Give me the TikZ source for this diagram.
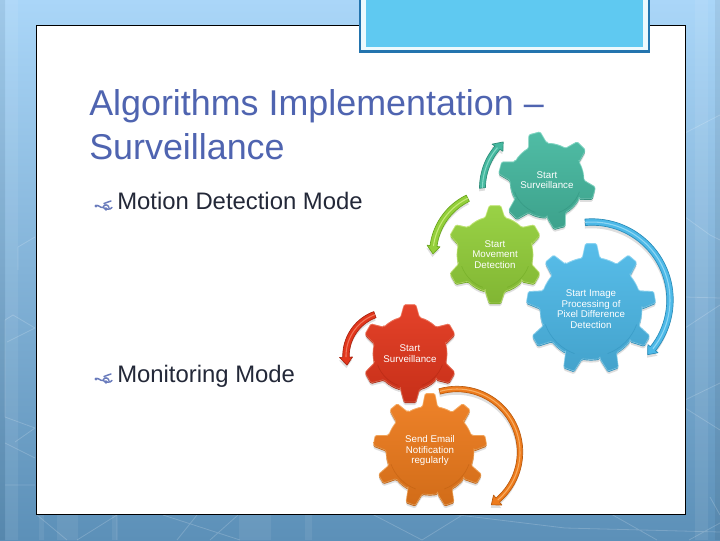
\documentclass[tikz,border=0pt]{standalone}
\usepackage{fontspec}
\setmainfont{Liberation Sans}
\definecolor{titleblue}{HTML}{4F64B0}
\definecolor{bodyink}{HTML}{232838}
\definecolor{boxedge}{HTML}{2374AE}
\definecolor{boxfill}{HTML}{5FC9F1}
\definecolor{bgtop}{RGB}{170,214,248}
\definecolor{bgbottom}{RGB}{92,144,184}
\newcommand{\gearpath}[6]{%
  (#4+360/#3-#5:#2) \foreach \k [evaluate=\k as \ga using #4+\k*360/#3] in {1,...,#3} {
    -- (\ga-#5:#2) -- (\ga-#6:#1) -- (\ga+#6:#1) -- (\ga+#5:#2)
    arc[start angle=\ga+#5, end angle=\ga+360/#3-#5, radius=#2]
  } -- cycle}
% cx, cy (from top), ro, ri, n, rot, db, dt; colours gdark gmain glight
\newcommand{\gearat}[8]{%
  \begin{scope}[shift={(#1,540-#2)}]
    \fill[black, opacity=.13, shift={(0,-3.5)}, rounded corners=1] \gearpath{#3}{#4}{#5}{#6}{#7}{#8};
    \fill[gdark, shift={(0,-1.5)}, rounded corners=1] \gearpath{#3}{#4}{#5}{#6}{#7}{#8};
    \shade[top color=gmain!94!white, bottom color=gmain!88!black, rounded corners=1] \gearpath{#3}{#4}{#5}{#6}{#7}{#8};
    \draw[glight, line width=.6pt, opacity=.55, rounded corners=1, shift={(0,-.4)}] \gearpath{#3}{#4}{#5}{#6}{#7}{#8};
    \draw[gdark, line width=.5pt, opacity=.45] (-70:#4-2.5) arc[start angle=-70, end angle=-20, radius=#4-2.5] (-160:#4-2.5) arc[start angle=-160, end angle=-110, radius=#4-2.5];
  \end{scope}}
% cx, cy (from top), r0, r1, a, b, width; colours gdark gmain glight
\newcommand{\arcarrow}[7]{%
  \begin{scope}[shift={(#1,540-#2)}]
    \pgfmathsetmacro{\hang}{(#6>#5?1:-1)*8/#4*57.3}
    \pgfmathsetmacro{\bs}{#6-\hang}
    \pgfmathsetmacro{\rs}{#3+(#4-#3)*(\bs-#5)/(#6-#5)}
    \fill[black, opacity=.13, shift={(-.5,-3)}]
      plot[domain=#5:\bs, samples=40] ({\x}:{#3+(#4-#3)*(\x-#5)/(#6-#5)+#7/2})
      -- (\bs:\rs+6.5) -- (#6:#4) -- (\bs:\rs-6.5)
      -- plot[domain=\bs:#5, samples=40] ({\x}:{#3+(#4-#3)*(\x-#5)/(#6-#5)-#7/2}) -- cycle;
    \fill[gmain, draw=gdark, line width=.5pt, line join=round]
      plot[domain=#5:\bs, samples=40] ({\x}:{#3+(#4-#3)*(\x-#5)/(#6-#5)+#7/2})
      -- (\bs:\rs+6.5) -- (#6:#4) -- (\bs:\rs-6.5)
      -- plot[domain=\bs:#5, samples=40] ({\x}:{#3+(#4-#3)*(\x-#5)/(#6-#5)-#7/2}) -- cycle;
    \draw[glight, line width=.8pt, opacity=.65]
      plot[domain=#5:\bs, samples=40] ({\x}:{#3+(#4-#3)*(\x-#5)/(#6-#5)});
  \end{scope}}
\newcommand{\setgear}[3]{\colorlet{gdark}{#1}\colorlet{gmain}{#2}\colorlet{glight}{#3}}
\newcommand{\fleuron}[2]{%
  \begin{scope}[shift={(#1,540-#2)}]
    \draw[titleblue!85!white, line width=1.1pt, line cap=round]
      (0,0) .. controls (2,2) and (4,-2) .. (7,-1.5)
      .. controls (10,-3.5) and (14,-4) .. (16,-1.5)
      (7,-1.5) .. controls (8,2) and (12,2) .. (13,-1.5)
      (8,2.5) .. controls (11,4) and (13,4) .. (15,5);
    \fill[titleblue!85!white] (0,0) circle[radius=1.7] (10,-3) circle[radius=1.8];
  \end{scope}}
\begin{document}
\begin{tikzpicture}[x=0.75pt,y=0.75pt,
  titletext/.style={anchor=base west,inner sep=0,text=titleblue,font=\fontsize{26.9}{30}\selectfont},
  bodytext/.style={anchor=base west,inner sep=0,text=bodyink,font=\fontsize{17.9}{22}\selectfont},
  geartext/.style={align=center,inner sep=0,text=white,font=\fontsize{7.3}{8}\selectfont},
  bgline/.style={white,opacity=.18,line width=.6pt}]
\useasboundingbox (0,0) rectangle (720,540);
% background
\shade[top color=bgtop, bottom color=bgbottom] (0,0) rectangle (720,540);
\fill[white,opacity=.07] (5,0) rectangle (18,540) (39,0) rectangle (44,26) (57,0) rectangle (78,26) (112,0) rectangle (117,26) (239,0) rectangle (271,26) (305,0) rectangle (312,26) (695,0) rectangle (708,540);
\fill[black,opacity=.06] (0,0) rectangle (5,540) (715,0) rectangle (720,540);
\draw[bgline] (5,220) -- (13,225) -- (35,212) (7,198) -- (35,212) (5,220) -- (5,123) (5,123) -- (35,112) (15,98) -- (35,112) (5,97) -- (35,82) (5,55) -- (35,55)
  (18,293) -- (35,303) (18,293) -- (18,270);
\draw[bgline] (37,25) -- (67,0) (77,0) -- (117,25) (117,25) -- (117,0) (163,25) -- (240,0) (177,0) -- (197,25) (210,0) -- (238,25)
  (372,26) -- (422,0) -- (464,26) (450,26) -- (565,12) -- (720,8) (611,26) -- (657,0) (689,0) -- (720,17)
  (685,407) -- (720,425) (685,323) -- (710,305) -- (720,300) (685,243) -- (720,242) (685,212) -- (720,235)
  (685,140) -- (720,157) (685,132) -- (720,110) (710,43) -- (720,25);
% slide panel
\draw[fill=white, draw=black, line width=.75pt] (36.5,26) rectangle (685.5,514);
% top box
\fill[boxedge] (358.5,487) rectangle (650,540);
\fill[white!88!boxfill] (360.5,490) rectangle (648,540);
\fill[boxfill] (366,492.5) rectangle (643,540);
% text
\node[titletext] (title1) at (89,424) {Algorithms Implementation –};
\node[titletext] (title2) at (89,381) {Surveillance};
\fleuron{96}{206}
\node[bodytext] (mode1) at (117,330.5) {Motion Detection Mode};
\fleuron{96}{379}
\node[bodytext] (mode2) at (117,157.3) {Monitoring Mode};
% teal
\definecolor{gm}{HTML}{45B89F}\definecolor{gd}{HTML}{2C8C78}\definecolor{gl}{HTML}{A6EBDB}
\setgear{gd}{gm}{gl}
\arcarrow{547}{180}{65}{58}{187}{139}{6}
\gearat{547}{180}{49}{37}{6}{-15}{15}{7}
\node[geartext] (g1) at (547,360) {Start\\Surveillance};
% green
\definecolor{gm}{HTML}{93CF3A}\definecolor{gd}{HTML}{6AA51E}\definecolor{gl}{HTML}{E2F79A}
\setgear{gd}{gm}{gl}
\arcarrow{495}{254}{62}{62}{116}{180}{7}
\gearat{495}{254}{49}{38}{6}{90}{15}{7}
\node[geartext] (g2) at (495,285.5) {Start\\Movement\\Detection};
% blue
\definecolor{gm}{HTML}{4DB9E8}\definecolor{gd}{HTML}{2A8CB8}\definecolor{gl}{HTML}{B5E8FA}
\setgear{gd}{gm}{gl}
\gearat{591}{308}{65}{51}{9}{90}{10}{5}
\arcarrow{592}{300}{78}{78}{95}{-44.5}{6.5}
\node[geartext] (g3) at (591,231) {Start Image\\Processing of\\Pixel Difference\\Detection};
% red
\definecolor{gm}{HTML}{E2361C}\definecolor{gd}{HTML}{A82410}\definecolor{gl}{HTML}{F79A80}
\setgear{gd}{gm}{gl}
\arcarrow{390}{356}{44}{44}{110}{192}{6.5}
\gearat{410}{353}{49}{37}{6}{90}{15}{7}
\node[geartext] (g4) at (410,186.5) {Start\\Surveillance};
% orange
\definecolor{gm}{HTML}{EE7B1C}\definecolor{gd}{HTML}{B85A0E}\definecolor{gl}{HTML}{FBC88A}
\setgear{gd}{gm}{gl}
\gearat{430}{450}{57}{44}{9}{90}{10}{5}
\arcarrow{457}{452}{63}{63}{106}{-57}{5.5}
\node[geartext] (g5) at (430,89.5) {Send Email\\Notification\\regularly};
\end{tikzpicture}
\end{document}
